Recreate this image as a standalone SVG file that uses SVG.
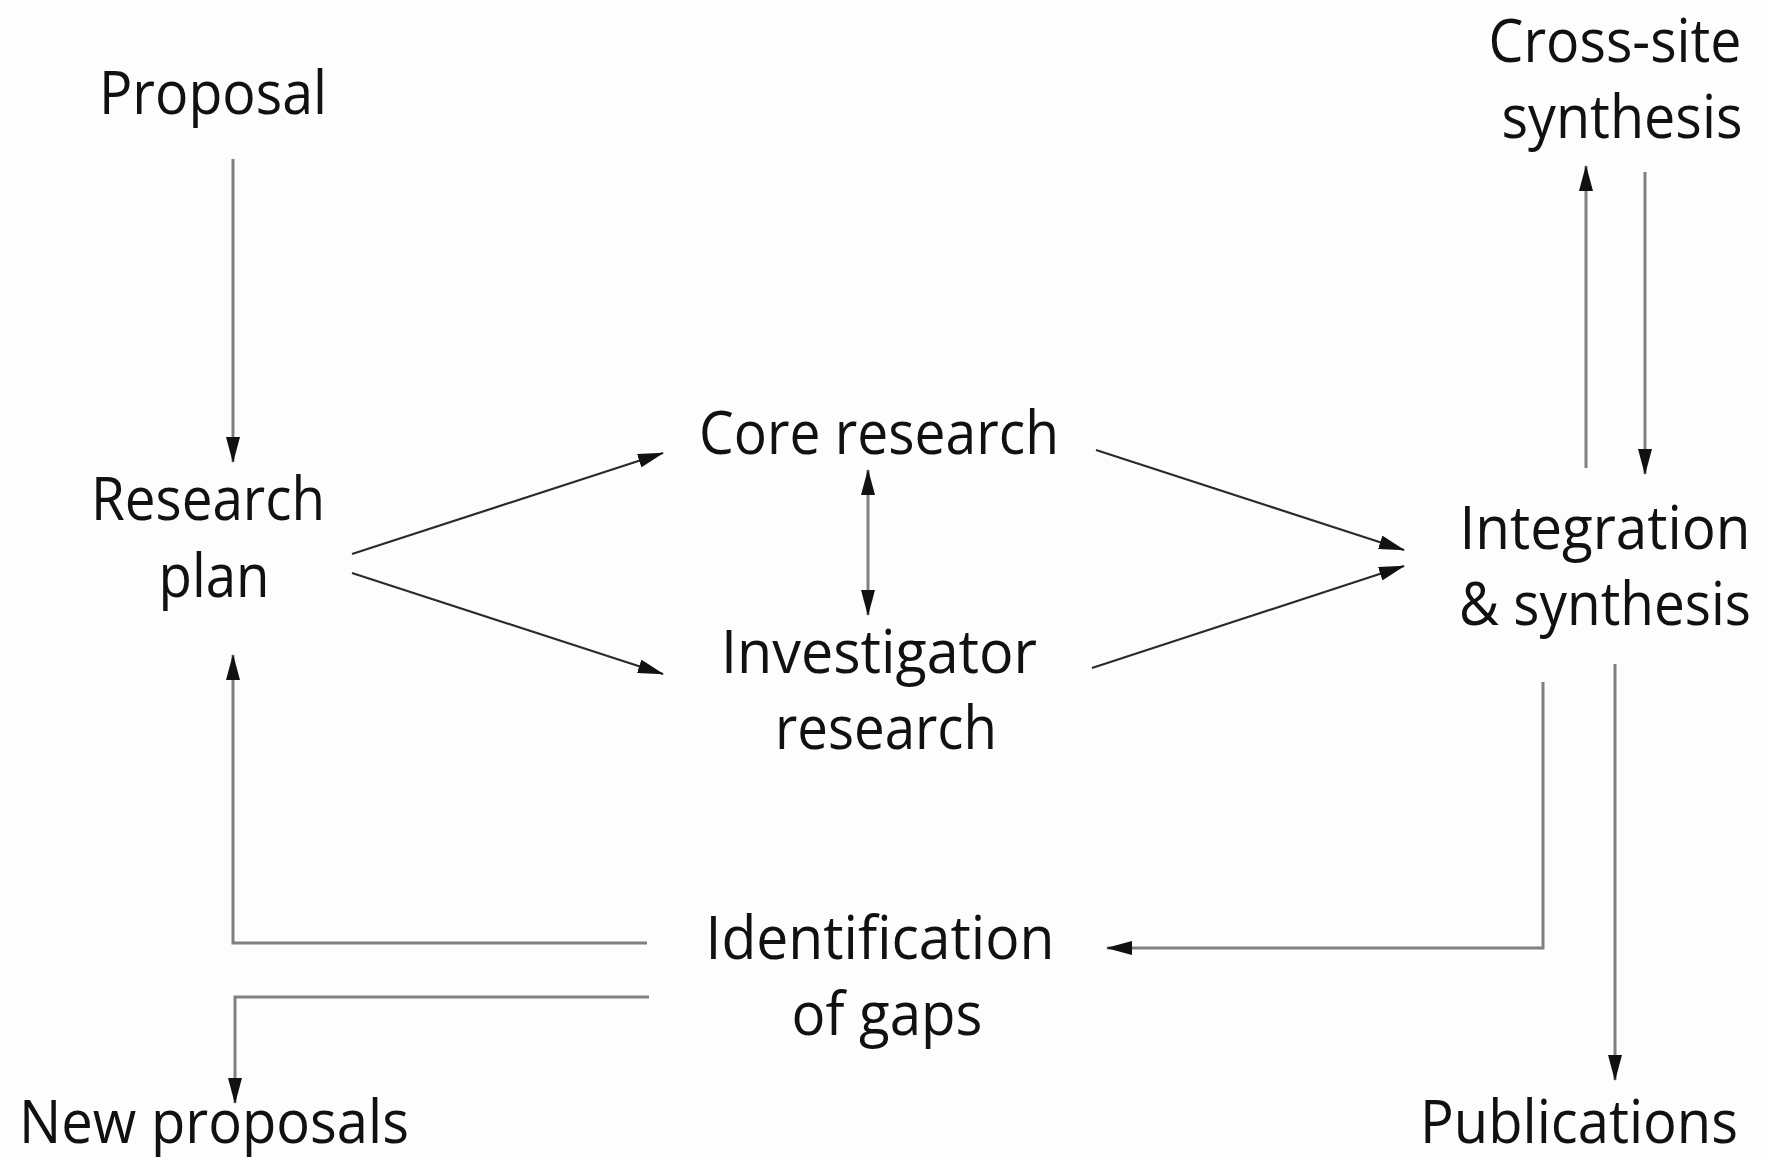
<svg xmlns="http://www.w3.org/2000/svg" width="1767" height="1159" viewBox="0 0 1767 1159">
<style>
  text { font-family: "Open Sans", "Noto Sans", "Liberation Sans", sans-serif; font-size: 60px; fill: #111; text-anchor: middle; }
  .g { fill: none; stroke: #808080; stroke-width: 3; }
  .d { fill: none; stroke: #2a2a2a; stroke-width: 2.2; }
</style>
<defs>
  <marker id="ah" viewBox="0 0 26 14" refX="25" refY="7" markerWidth="26" markerHeight="14" markerUnits="userSpaceOnUse" orient="auto-start-reverse">
    <path d="M0,0 L26,7 L0,14 Z" fill="#111"/>
  </marker>
</defs>
<rect width="1767" height="1159" fill="#fdfdfd"/>

<g id="connectors">
  <line class="g" x1="233" y1="159" x2="233" y2="462" marker-end="url(#ah)"/>
  <line class="d" x1="352" y1="554" x2="663" y2="453" marker-end="url(#ah)"/>
  <line class="d" x1="352" y1="573" x2="663" y2="674" marker-end="url(#ah)"/>
  <line class="g" x1="868" y1="470" x2="868" y2="615" marker-start="url(#ah)" marker-end="url(#ah)"/>
  <line class="d" x1="1096" y1="450" x2="1404" y2="550" marker-end="url(#ah)"/>
  <line class="d" x1="1092" y1="668" x2="1404" y2="566" marker-end="url(#ah)"/>
  <line class="g" x1="1586" y1="468" x2="1586" y2="166" marker-end="url(#ah)"/>
  <line class="g" x1="1645" y1="172" x2="1645" y2="474" marker-end="url(#ah)"/>
  <path class="g" d="M1543,682 L1543,948 L1107,948" marker-end="url(#ah)"/>
  <line class="g" x1="1615" y1="664" x2="1615" y2="1080" marker-end="url(#ah)"/>
  <path class="g" d="M647,943 L233,943 L233,655" marker-end="url(#ah)"/>
  <path class="g" d="M649,997 L235,997 L235,1103" marker-end="url(#ah)"/>
</g>

<g id="proposal"><text x="213" y="114" textLength="228" lengthAdjust="spacingAndGlyphs">Proposal</text></g>
<g id="research-plan">
  <text x="208" y="520" textLength="234" lengthAdjust="spacingAndGlyphs">Research</text>
  <text x="214" y="597" textLength="111" lengthAdjust="spacingAndGlyphs">plan</text>
</g>
<g id="core-research"><text x="879" y="454" textLength="360" lengthAdjust="spacingAndGlyphs">Core research</text></g>
<g id="investigator-research">
  <text x="879" y="673" textLength="316" lengthAdjust="spacingAndGlyphs">Investigator</text>
  <text x="886" y="749" textLength="222" lengthAdjust="spacingAndGlyphs">research</text>
</g>
<g id="cross-site-synthesis">
  <text x="1615" y="62" textLength="253" lengthAdjust="spacingAndGlyphs">Cross-site</text>
  <text x="1622" y="138" textLength="241" lengthAdjust="spacingAndGlyphs">synthesis</text>
</g>
<g id="integration-synthesis">
  <text x="1605" y="549" textLength="291" lengthAdjust="spacingAndGlyphs">Integration</text>
  <text x="1605" y="625" font-size="56" textLength="292" lengthAdjust="spacingAndGlyphs">&amp; synthesis</text>
</g>
<g id="identification-of-gaps">
  <text x="880" y="959" textLength="349" lengthAdjust="spacingAndGlyphs">Identification</text>
  <text x="887" y="1035" textLength="191" lengthAdjust="spacingAndGlyphs">of gaps</text>
</g>
<g id="new-proposals"><text x="214" y="1143" textLength="390" lengthAdjust="spacingAndGlyphs">New proposals</text></g>
<g id="publications"><text x="1579" y="1143" textLength="318" lengthAdjust="spacingAndGlyphs">Publications</text></g>
</svg>
